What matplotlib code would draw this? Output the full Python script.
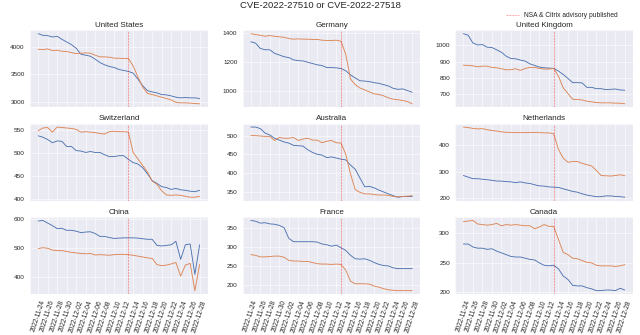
import matplotlib
matplotlib.use("Agg")
import matplotlib.pyplot as plt
import matplotlib.dates as mdates
from matplotlib.ticker import MultipleLocator
import numpy as np
import pandas as pd
import seaborn as sns

dates = pd.date_range("2022-11-24", "2022-12-28", freq="D")
advisory_date = pd.Timestamp("2022-12-13")

countries = ["United States", "Germany", "United Kingdom",
             "Switzerland", "Australia", "Netherlands",
             "China", "France", "Canada"]

cve_27510 = {
    "United States": [4234, 4204, 4198, 4174, 4186, 4132, 4084, 4036, 3970, 3862,
                      3844, 3826, 3772, 3712, 3670, 3640, 3622, 3586, 3568, 3550,
                      3520, 3412, 3293, 3203, 3180, 3162, 3132, 3126, 3108, 3084,
                      3072, 3078, 3072, 3072, 3060],
    "Germany": [1339, 1330, 1293, 1284, 1284, 1259, 1248, 1236, 1230, 1214,
                1209, 1207, 1198, 1189, 1180, 1175, 1161, 1161, 1159, 1155,
                1139, 1111, 1089, 1070, 1068, 1064, 1057, 1052, 1043, 1034,
                1018, 1011, 1014, 1002, 991],
    "United Kingdom": [1071, 1061, 1014, 1002, 1004, 988, 986, 972, 957, 933,
                       919, 917, 909, 903, 886, 876, 866, 862, 860, 858,
                       842, 821, 797, 771, 771, 769, 742, 742, 734, 734,
                       728, 730, 732, 726, 724],
    "Switzerland": [537, 534, 529, 522, 526, 525, 514, 514, 505, 504,
                    501, 503, 501, 501, 496, 492, 492, 494, 494, 486,
                    479, 476, 468, 455, 440, 434, 427, 425, 421, 423,
                    420, 419, 417, 416, 419],
    "Australia": [523, 523, 519, 507, 502, 493, 488, 483, 480, 474,
                  473, 472, 462, 455, 450, 448, 441, 443, 440, 437,
                  435, 421, 410, 386, 363, 364, 360, 354, 349, 344,
                  339, 335, 337, 337, 337],
    "Netherlands": [286, 280, 274, 274, 272, 270, 268, 265, 265, 263,
                    262, 259, 262, 258, 256, 251, 247, 246, 243, 242,
                    241, 236, 231, 226, 223, 217, 212, 209, 206, 206,
                    209, 209, 207, 206, 204],
    "China": [593, 595, 586, 577, 567, 568, 561, 561, 558, 553,
              555, 556, 550, 540, 540, 536, 533, 534, 535, 535,
              535, 534, 532, 530, 530, 509, 507, 509, 511, 523,
              461, 511, 514, 409, 511],
    "France": [370, 368, 363, 364, 361, 360, 357, 351, 323, 314,
               314, 314, 314, 314, 313, 308, 306, 302, 305, 298,
               291, 278, 269, 268, 269, 265, 259, 254, 251, 250,
               245, 243, 243, 243, 243],
    "Canada": [282, 282, 277, 275, 275, 273, 274, 270, 267, 264,
               261, 260, 260, 258, 256, 255, 250, 246, 245, 246,
               240, 228, 222, 212, 211, 211, 208, 206, 203, 203,
               204, 204, 203, 207, 204],
}

cve_27518 = {
    "United States": [3952, 3946, 3958, 3928, 3934, 3916, 3910, 3892, 3874, 3880,
                      3886, 3880, 3844, 3814, 3814, 3808, 3790, 3790, 3784, 3784,
                      3650, 3450, 3270, 3155, 3132, 3108, 3084, 3060, 3036, 2990,
                      2982, 2982, 2976, 2970, 2964],
    "Germany": [1395, 1389, 1384, 1377, 1382, 1377, 1373, 1370, 1361, 1357,
                1359, 1357, 1357, 1355, 1355, 1350, 1348, 1348, 1350, 1343,
                1252, 1082, 1043, 1020, 1007, 993, 980, 975, 966, 952,
                943, 939, 934, 927, 911],
    "United Kingdom": [878, 876, 874, 868, 872, 872, 864, 862, 856, 850,
                       850, 856, 846, 858, 864, 864, 858, 854, 854, 858,
                       811, 740, 704, 669, 667, 665, 657, 653, 649, 647,
                       647, 647, 645, 645, 641],
    "Switzerland": [548, 554, 555, 545, 556, 555, 554, 553, 551, 545,
                    546, 545, 544, 542, 541, 546, 547, 546, 546, 545,
                    501, 487, 473, 459, 439, 432, 418, 409, 408, 409,
                    408, 406, 404, 404, 406],
    "Australia": [500, 500, 499, 498, 498, 487, 495, 493, 493, 495,
                  487, 491, 493, 488, 488, 481, 485, 487, 481, 480,
                  450, 397, 355, 348, 344, 344, 342, 341, 341, 340,
                  337, 336, 337, 338, 339],
    "Netherlands": [469, 467, 464, 462, 463, 459, 456, 454, 451, 449,
                    449, 448, 448, 448, 449, 448, 448, 447, 447, 444,
                    385, 352, 336, 339, 339, 332, 327, 322, 305, 286,
                    285, 284, 286, 289, 285],
    "China": [498, 501, 499, 493, 491, 491, 488, 485, 483, 481,
              480, 481, 476, 477, 476, 475, 477, 478, 478, 477,
              475, 472, 469, 466, 464, 443, 439, 441, 445, 450,
              403, 441, 447, 353, 443],
    "France": [280, 278, 274, 274, 275, 276, 276, 273, 265, 263,
               263, 262, 262, 259, 256, 255, 255, 254, 255, 254,
               239, 210, 203, 203, 203, 202, 197, 194, 190, 187,
               186, 185, 185, 185, 185],
    "Canada": [320, 321, 322, 316, 315, 314, 315, 317, 313, 315,
               314, 315, 314, 313, 313, 308, 311, 315, 312, 312,
               290, 268, 264, 258, 257, 254, 251, 250, 246, 245,
               245, 245, 244, 245, 247],
}

# spacing of the y ticks in each panel
y_steps = {"United States": 500, "Germany": 200, "United Kingdom": 100,
           "Switzerland": 50, "Australia": 50, "Netherlands": 100,
           "China": 100, "France": 50, "Canada": 50}

sns.set_theme(style="darkgrid")
plt.rcParams["font.family"] = ["Liberation Sans", "DejaVu Sans"]

fig, axes = plt.subplots(3, 3, figsize=(16, 8.375), dpi=40, sharex=True)
fig.subplots_adjust(left=0.047, right=0.989, top=0.910, bottom=0.122,
                    wspace=0.197, hspace=0.21)

for ax, country in zip(axes.flat, countries):
    ax.plot(dates, cve_27510[country], color="C0", linewidth=1.6)
    ax.plot(dates, cve_27518[country], color="C1", linewidth=1.6)
    vl = ax.axvline(advisory_date, color="red", linestyle="--",
                    linewidth=1.0, alpha=0.6,
                    label="NSA & Citrix advisory published")
    ax.set_title(country, fontsize=14.4, pad=6)
    ax.set_xticks(dates[::2])
    ax.xaxis.set_major_formatter(mdates.DateFormatter("%Y-%m-%d"))
    ax.yaxis.set_major_locator(MultipleLocator(y_steps[country]))
    ax.tick_params(axis="y", labelsize=11.5)

for ax in axes[-1]:
    ax.tick_params(axis="x", labelrotation=72, labelsize=12)

fig.suptitle("CVE-2022-27510 or CVE-2022-27518", fontsize=17, y=0.997)
fig.legend(handles=[vl], loc="center right", bbox_to_anchor=(0.975, 0.953),
           frameon=False, fontsize=12, handlelength=2.0)

fig.savefig("out.png", dpi=40)
